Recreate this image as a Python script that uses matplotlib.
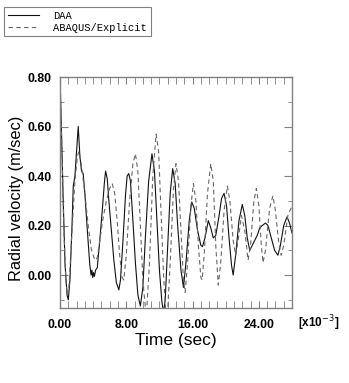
import numpy as np
import matplotlib
matplotlib.use("Agg")
import matplotlib.pyplot as plt
from matplotlib.ticker import MultipleLocator, FixedLocator

# time in units of 1e-3 sec, radial velocity in m/sec
daa_t = [0.0, 0.15, 0.35, 0.6, 0.85, 1.0, 1.2, 1.45, 1.6, 1.8, 2.0, 2.2, 2.4, 2.6, 2.8,
         3.0, 3.3, 3.6, 3.75, 3.85, 3.95, 4.05, 4.15, 4.3, 4.5, 4.8, 5.1, 5.35, 5.5, 5.7,
         5.9, 6.2, 6.5, 6.8, 7.1, 7.3, 7.6, 7.9, 8.1, 8.3, 8.5, 8.8, 9.1, 9.4, 9.7,
         10.0, 10.3, 10.7, 11.1, 11.4, 11.7, 12.0, 12.3, 12.5, 12.7, 13.0, 13.3, 13.6, 13.9,
         14.2, 14.6, 14.9, 15.2, 15.6, 15.9, 16.2, 16.6, 17.0, 17.2, 17.5, 17.9, 18.2, 18.5,
         18.8, 19.2, 19.5, 19.8, 20.1, 20.4, 20.7, 20.9, 21.2, 21.6, 22.0, 22.3, 22.6, 22.9,
         23.2, 23.5, 23.8, 24.1, 24.4, 24.8, 25.1, 25.5, 25.9, 26.3, 26.6, 27.0, 27.4, 27.7, 28.0]
daa_v = [0.80, 0.62, 0.35, 0.05, -0.08, -0.10, -0.02, 0.20, 0.36, 0.40, 0.50, 0.60, 0.48, 0.42, 0.41,
         0.33, 0.18, 0.04, 0.00, 0.02, -0.01, 0.01, -0.005, 0.02, 0.03, 0.14, 0.26, 0.37, 0.42, 0.39,
         0.30, 0.18, 0.06, -0.03, -0.06, -0.02, 0.14, 0.32, 0.40, 0.41, 0.38, 0.22, 0.05, -0.08, -0.125,
         -0.05, 0.15, 0.38, 0.49, 0.42, 0.22, 0.02, -0.11, -0.15, -0.10, 0.12, 0.33, 0.43, 0.37,
         0.20, 0.02, -0.05, 0.05, 0.22, 0.295, 0.27, 0.18, 0.12, 0.115, 0.15, 0.22, 0.19, 0.15,
         0.16, 0.24, 0.31, 0.33, 0.28, 0.15, 0.04, 0.00, 0.08, 0.22, 0.285, 0.24, 0.15, 0.10,
         0.12, 0.14, 0.16, 0.19, 0.20, 0.21, 0.20, 0.15, 0.10, 0.08, 0.12, 0.20, 0.235, 0.21, 0.17]

abq_t = [0.0, 0.2, 0.45, 0.7, 0.9, 1.1, 1.4, 1.8, 2.1, 2.3, 2.6, 3.0, 3.4, 3.8, 4.2, 4.5,
         4.8, 5.2, 5.6, 6.0, 6.3, 6.6, 6.9, 7.2, 7.5, 7.7, 8.0, 8.4, 8.8, 9.1, 9.4, 9.7,
         10.0, 10.3, 10.5, 10.8, 11.2, 11.6, 11.9, 12.2, 12.5, 12.8, 13.0, 13.3, 13.7, 14.0,
         14.3, 14.6, 14.9, 15.1, 15.4, 15.8, 16.1, 16.4, 16.7, 17.0, 17.15, 17.4, 17.8, 18.2,
         18.5, 18.8, 19.1, 19.4, 19.8, 20.2, 20.5, 20.9, 21.2, 21.5, 21.9, 22.3, 22.7, 23.0,
         23.4, 23.7, 24.0, 24.3, 24.5, 24.8, 25.3, 25.7, 26.0, 26.4, 26.7, 27.0, 27.5, 28.0]
abq_v = [0.80, 0.55, 0.20, -0.02, -0.08, -0.04, 0.15, 0.38, 0.48, 0.50, 0.44, 0.33, 0.20, 0.10, 0.06, 0.07,
         0.14, 0.23, 0.30, 0.35, 0.37, 0.33, 0.22, 0.08, -0.01, -0.02, 0.08, 0.30, 0.45, 0.49, 0.42, 0.20,
         -0.02, -0.13, -0.12, 0.05, 0.40, 0.57, 0.50, 0.25, 0.00, -0.17, -0.14, 0.05, 0.35, 0.45,
         0.38, 0.18, -0.02, -0.07, 0.05, 0.28, 0.37, 0.30, 0.12, -0.01, -0.02, 0.08, 0.33, 0.45,
         0.38, 0.12, -0.04, 0.05, 0.26, 0.36, 0.30, 0.14, 0.08, 0.14, 0.24, 0.18, 0.06, 0.12,
         0.30, 0.35, 0.28, 0.12, 0.05, 0.10, 0.27, 0.32, 0.26, 0.13, 0.08, 0.12, 0.24, 0.28]

W, H = 349, 383
fig = plt.figure(figsize=(W / 100, H / 100), dpi=100)
ax = fig.add_axes([60 / W, 1 - 308 / H, 232 / W, 231 / H])

ax.plot(daa_t, daa_v, color="#111111", lw=0.8, label="DAA")
ax.plot(abq_t, abq_v, color="#666666", lw=0.8, ls=(0, (4, 3)), label="ABAQUS/Explicit")

ax.set_xlim(0, 28)
ax.set_ylim(-0.133, 0.80)
ax.xaxis.set_major_locator(FixedLocator([0, 8, 16, 24]))
ax.xaxis.set_minor_locator(MultipleLocator(1))
ax.yaxis.set_major_locator(MultipleLocator(0.2))
ax.yaxis.set_minor_locator(MultipleLocator(0.1))
ax.xaxis.set_major_formatter(lambda v, p: f"{v:.2f}")
ax.yaxis.set_major_formatter(lambda v, p: f"{v:.2f}")

for s in ax.spines.values():
    s.set_color("#808080")
    s.set_linewidth(1.0)
ax.tick_params(which="both", direction="in", top=True, right=True, color="#808080")
ax.tick_params(axis="y", which="major", length=6, pad=6)
ax.tick_params(axis="y", which="minor", length=3)
ax.tick_params(axis="x", which="major", length=5, pad=8)
ax.tick_params(axis="x", which="minor", length=5)
for lab in ax.get_xticklabels() + ax.get_yticklabels():
    lab.set_fontfamily("Liberation Sans")
    lab.set_fontweight("bold")
    lab.set_fontsize(8.8)

ax.set_xlabel("Time (sec)", fontfamily="Liberation Sans", fontsize=12.5, labelpad=1)
fig.text(17 / W, 1 - 198 / H, "Radial velocity (m/sec)", rotation=90, ha="center", va="center",
         fontfamily="Liberation Sans", fontsize=11.8)
fig.text(298 / W, 1 - 323 / H, r"[x10$^{-3}$]", ha="left", va="center",
         fontfamily="Liberation Sans", fontweight="bold", fontsize=8.5)

leg = fig.legend(loc="upper left", bbox_to_anchor=(4 / W, 1 - 7 / H), borderaxespad=0,
                 prop={"family": "Liberation Mono", "size": 7.5}, fancybox=False,
                 edgecolor="#808080", framealpha=1, handlelength=3.0, handletextpad=1.4,
                 labelspacing=0.2, borderpad=0.35)
leg.get_frame().set_linewidth(0.8)

fig.savefig("out.png", dpi=100)
